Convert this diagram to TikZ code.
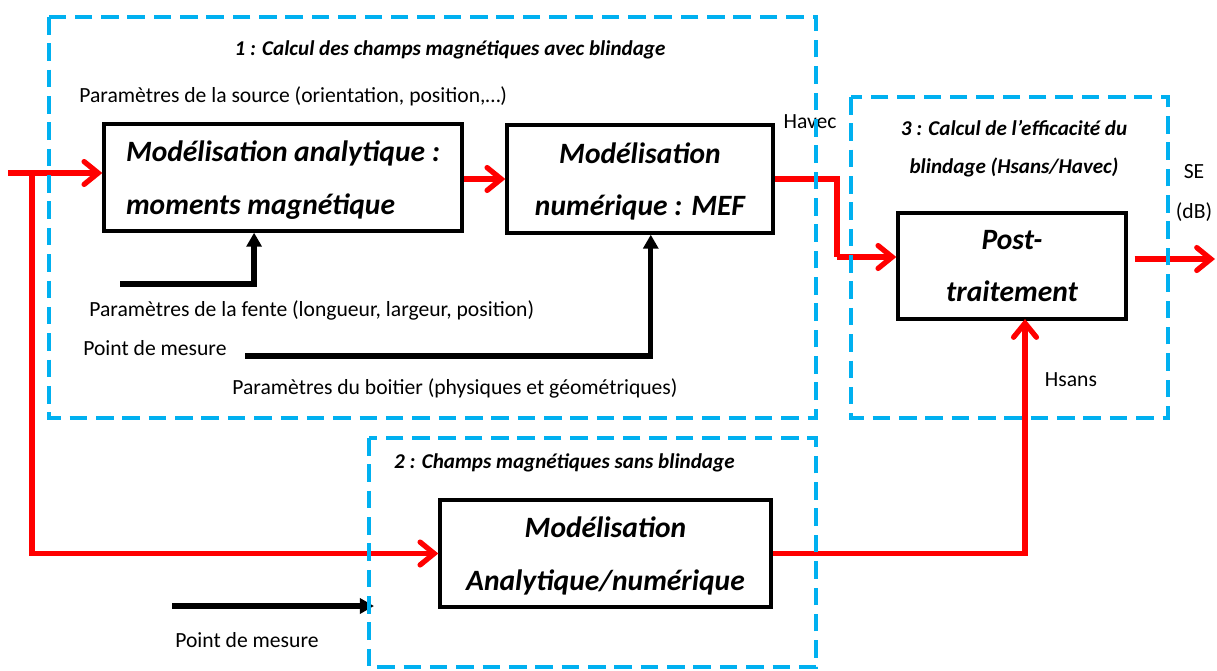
\documentclass[tikz,border=0pt]{standalone}
\usepackage{fontspec}
\setmainfont{Carlito}
\usepackage{xcolor}
\usetikzlibrary{arrows.meta,calc}

\definecolor{frameblue}{RGB}{0,176,240}
\definecolor{linkred}{RGB}{255,0,0}

\begin{document}
\begin{tikzpicture}[
    x=0.02cm, y=-0.02cm,
    every node/.style={font=\fontsize{12.3}{14}\selectfont},
    blockbox/.style={
        rectangle,
        draw=black,
        line width=1.9pt,
        align=center,
        inner sep=0pt,
        text depth=-5pt,
        font=\fontsize{16.8}{30}\selectfont\bfseries\itshape
    },
    frame/.style={
        draw=frameblue,
        line width=1.9pt,
        dash pattern=on 10pt off 5pt
    },
    frametitle/.style={font=\fontsize{12}{21.5}\selectfont\bfseries\itshape, align=center},
    label/.style={anchor=west, inner sep=0pt},
    redarrow/.style={draw=linkred, line width=3pt, -{Straight Barb[length=8pt,width=13pt,line cap=round]}},
    redline/.style={draw=linkred, line width=3pt},
    blackarrow/.style={draw=black, line width=3pt, -{Triangle[length=8pt,width=8.5pt]}}
]
\useasboundingbox (0,0) rectangle (1217,670);

% Blocks
\node[blockbox, align=left, minimum width=358*0.02cm, minimum height=107*0.02cm] (analytique) at (283,177.5)
    {Modélisation analytique :\\ moments magnétique};
\node[blockbox, minimum width=266*0.02cm, minimum height=108*0.02cm] (mef) at (640,179)
    {Modélisation\\ numérique : MEF};
\node[blockbox, minimum width=228*0.02cm, minimum height=106*0.02cm] (post) at (1012,266)
    {Post-\\ traitement};
\node[blockbox, minimum width=331*0.02cm, minimum height=107*0.02cm] (sansblind) at (605.5,553.5)
    {Modélisation\\ Analytique/numérique};

% Frame titles and labels
\node[frametitle] (titre1) at (450,50) {1 : Calcul des champs magnétiques avec blindage};
\node[frametitle, anchor=west] (titre2) at (388,463) {2 : Champs magnétiques sans blindage};
\node[frametitle] (titre3) at (1014,149) {3 : Calcul de l’efficacité du\\ blindage (Hsans/Havec)};

\node[label] (source) at (79,96) {Paramètres de la source (orientation, position,…)};
\node[label] (fentetxt) at (89,310) {Paramètres de la fente (longueur, largeur, position)};
\node[label] (mesuretxt) at (83,348) {Point de mesure};
\node[label] (boitier) at (232,388) {Paramètres du boitier (physiques et géométriques)};
\node[label] (mesuretxtD) at (175,640) {Point de mesure};
\node (havec) at (810,122) {Havec};
\node (hsans) at (1071,380) {Hsans};
\node[align=center, font=\fontsize{12.3}{22.7}\selectfont] (se) at (1194,193) {SE\\ (dB)};

% Free ends and bends
\coordinate (entree) at (8,173);
\coordinate (split) at (32,173);
\coordinate (havecbend) at (837,257);
\coordinate (sortie) at (1215,259);
\coordinate (hsansin) at (1025,319);
\coordinate (fente) at (120,284);
\coordinate (mesure) at (245,356);
\coordinate (mesureD) at (172,606);
\coordinate (mesureDend) at (374,606);

% Red links
\draw[redarrow] (entree) -- (entree -| analytique.west);
\draw[redarrow] (split) |- (sansblind.west);
\draw[redarrow] (analytique.east |- mef.west) -- (mef.west);
\draw[redline] (mef.east) -| (havecbend);
\draw[redarrow] (havecbend) -- (havecbend -| post.west);
\draw[redarrow] ([xshift=4pt]post.east |- sortie) -- (sortie);
\draw[redarrow] (sansblind.east) -| (hsansin);

% Black links
\draw[blackarrow] (fente) -| ($(analytique.south west)!0.42!(analytique.south east)$);
\draw[blackarrow] (mesure) -| ($(mef.south west)!0.54!(mef.south east)$);
\draw[blackarrow] (mesureD) -- (mesureDend);

% Dashed frames
\draw[frame] (49,17) rectangle (816,418);
\draw[frame] (369,438) rectangle (816,667);
\draw[frame] (851,97) rectangle (1168,418);

\end{tikzpicture}
\end{document}
